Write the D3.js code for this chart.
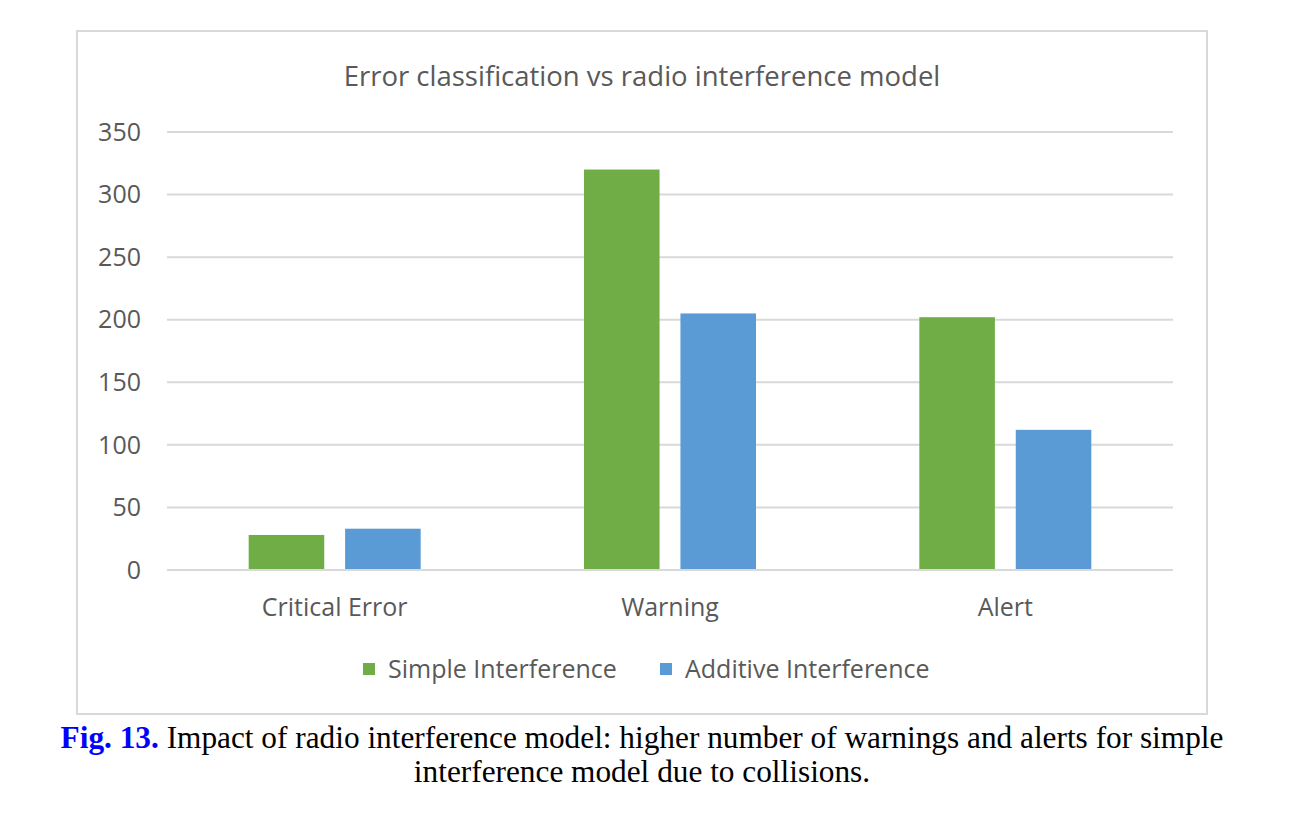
<!DOCTYPE html>
<html><head><meta charset="utf-8">
<script src="https://cdn.jsdelivr.net/npm/d3@7"></script>
<style>body{margin:0;background:#fff;} svg{display:block;}</style>
</head><body>
<svg id="chart" width="1292" height="816"></svg>
<script>
const categories = ["Critical Error", "Warning", "Alert"];
const seriesNames = ["Simple Interference", "Additive Interference"];
const simpleValues = [28, 320, 202];
const additiveValues = [33, 205, 112];
const yTicks = [0, 50, 100, 150, 200, 250, 300, 350];
const colors = ["#70ad47", "#5b9bd5"];
const titleText = "Error classification vs radio interference model";
const captionLabel = "Fig. 13.";
const captionLine1 = " Impact of radio interference model: higher number of warnings and alerts for simple";
const captionLine2 = "interference model due to collisions.";

const svg = d3.select("#chart");
const font = "'Open Sans', 'Noto Sans', sans-serif";
const serif = "'Liberation Serif', 'Times New Roman', serif";

// chart border
svg.append("rect").attr("x", 77).attr("y", 31).attr("width", 1130).attr("height", 683)
  .attr("fill", "#fff").attr("stroke", "#d9d9d9").attr("stroke-width", 2);

const plot = {left: 167, right: 1173, top: 132, bottom: 570};
const y = d3.scaleLinear().domain([0, 350]).range([plot.bottom, plot.top]);
const x0 = d3.scaleBand().domain(categories).range([plot.left, plot.right]).padding(0);
const x1 = d3.scaleBand().domain(seriesNames).range([-86, 86]).paddingInner(0.2165).paddingOuter(0);

// grid
svg.append("g").selectAll("line").data(yTicks).join("line")
  .attr("x1", plot.left).attr("x2", plot.right)
  .attr("y1", d => y(d)).attr("y2", d => y(d))
  .attr("stroke", "#d9d9d9").attr("stroke-width", 2);

// y labels
svg.append("g").selectAll("text").data(yTicks).join("text")
  .attr("x", 141).attr("y", d => y(d)).attr("dy", "0.35em")
  .attr("text-anchor", "end").attr("font-family", font).attr("font-size", 25)
  .attr("fill", "#595959").text(d => d);

// bars
const data = categories.map((c, i) => ({cat: c, vals: [simpleValues[i], additiveValues[i]]}));
const groups = svg.append("g").selectAll("g").data(data).join("g")
  .attr("transform", d => `translate(${x0(d.cat) + x0.bandwidth() / 2},0)`);
groups.selectAll("rect").data(d => d.vals.map((v, j) => ({s: seriesNames[j], v, j}))).join("rect")
  .attr("x", d => x1(d.s)).attr("width", x1.bandwidth())
  .attr("y", d => y(d.v)).attr("height", d => y(0) - y(d.v))
  .attr("fill", d => colors[d.j]);

// baseline
svg.append("line").attr("x1", plot.left).attr("x2", plot.right)
  .attr("y1", y(0)).attr("y2", y(0)).attr("stroke", "#d9d9d9").attr("stroke-width", 2);

// x labels
svg.append("g").selectAll("text").data(categories).join("text")
  .attr("x", d => x0(d) + x0.bandwidth() / 2).attr("y", 607).attr("dy", "0.35em")
  .attr("text-anchor", "middle").attr("font-family", font).attr("font-size", 25)
  .attr("fill", "#595959").text(d => d);

// title
svg.append("text").attr("x", 642).attr("y", 76).attr("dy", "0.35em")
  .attr("text-anchor", "middle").attr("font-family", font).attr("font-size", 27.5)
  .attr("fill", "#595959").text(titleText);

// legend
const legendX = [363, 660];
seriesNames.forEach((s, i) => {
  svg.append("rect").attr("x", legendX[i]).attr("y", 663).attr("width", 12).attr("height", 12)
    .attr("fill", colors[i]);
  svg.append("text").attr("x", legendX[i] + 25).attr("y", 669).attr("dy", "0.35em")
    .attr("font-family", font).attr("font-size", 25).attr("fill", "#595959").text(s);
});

// caption
const cap = svg.append("text").attr("x", 642).attr("y", 737).attr("dy", "0.35em")
  .attr("text-anchor", "middle").attr("font-family", serif)
  .attr("font-size", 31.3).attr("fill", "#000");
cap.append("tspan").attr("fill", "#0000ff").attr("font-weight", "bold").text(captionLabel);
cap.append("tspan").text(captionLine1);
svg.append("text").attr("x", 642).attr("y", 771).attr("dy", "0.35em")
  .attr("text-anchor", "middle").attr("font-family", serif)
  .attr("font-size", 31.3).attr("fill", "#000").text(captionLine2);
</script>
</body></html>
